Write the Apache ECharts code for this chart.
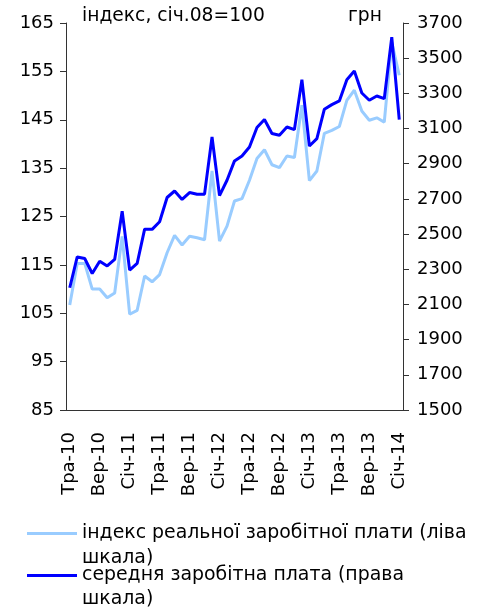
<!DOCTYPE html>
<html>
<head>
<meta charset="utf-8">
<script src="https://cdn.jsdelivr.net/npm/echarts@6/dist/echarts.min.js"></script>
<style>
  html, body { margin: 0; padding: 0; background: #fff; }
  #chart { width: 477px; height: 608px; }
</style>
</head>
<body>
<div id="chart"></div>
<script>
// місяці: травень 2010 - січень 2014
var months = [
  'Тра-10', 'Чер-10', 'Лип-10', 'Сер-10', 'Вер-10', 'Жов-10', 'Лис-10', 'Гру-10',
  'Січ-11', 'Лют-11', 'Бер-11', 'Кві-11', 'Тра-11', 'Чер-11', 'Лип-11', 'Сер-11',
  'Вер-11', 'Жов-11', 'Лис-11', 'Гру-11',
  'Січ-12', 'Лют-12', 'Бер-12', 'Кві-12', 'Тра-12', 'Чер-12', 'Лип-12', 'Сер-12',
  'Вер-12', 'Жов-12', 'Лис-12', 'Гру-12',
  'Січ-13', 'Лют-13', 'Бер-13', 'Кві-13', 'Тра-13', 'Чер-13', 'Лип-13', 'Сер-13',
  'Вер-13', 'Жов-13', 'Лис-13', 'Гру-13',
  'Січ-14'
];

// індекс реальної зарплати, січ.08=100 (ліва шкала)
var realIndex = [
  106.7, 115.3, 115.3, 110.0, 110.0, 108.2, 109.2, 120.9,
  104.8, 105.6, 112.7, 111.5, 113.0, 117.5, 121.1, 119.1,
  120.9, 120.6, 120.2, 134.4,
  119.9, 123.0, 128.2, 128.7, 132.5, 137.0, 138.8, 135.7,
  135.1, 137.5, 137.2, 148.0,
  132.4, 134.4, 142.2, 142.8, 143.6, 149.0, 151.1, 146.8,
  144.9, 145.4, 144.5, 161.0,
  154.2
];

// середня зарплата, грн (права шкала)
var avgWage = [
  2195, 2370, 2361, 2276, 2346, 2319, 2356, 2630,
  2295, 2333, 2528, 2527, 2570, 2708, 2745, 2697,
  2736, 2727, 2727, 3052,
  2719, 2806, 2916, 2944, 2995, 3106, 3151, 3072,
  3062, 3109, 3094, 3378,
  3001, 3043, 3210, 3236, 3257, 3378, 3427, 3302,
  3261, 3285, 3270, 3620,
  3151
];

var leftTicks = [85, 95, 105, 115, 125, 135, 145, 155, 165];
var rightTicks = [1500, 1700, 1900, 2100, 2300, 2500, 2700, 2900, 3100, 3300, 3500, 3700];

var nameReal = 'індекс реальної заробітної плати (ліва шкала)';
var nameWage = 'середня заробітна плата (права шкала)';

var font = 'DejaVu Sans';
var axisColor = '#333';
var textSize = 18.7;
var legendSize = 18.9;

var myChart = echarts.init(document.getElementById('chart'));

// легенда: перший рядок поруч з лінією, "шкала)" - окремим рядком нижче
function legendFor(name, top) {
  return {
    data: [name],
    orient: 'vertical',
    left: 27,
    top: top,
    padding: 0,
    icon: 'rect',
    itemWidth: 50,
    itemHeight: 3,
    selectedMode: false,
    formatter: function (n) { return n.replace(' шкала)', ''); },
    textStyle: { fontFamily: font, fontSize: legendSize, color: '#000' }
  };
}

function secondLine(y) {
  return {
    type: 'text', left: 82, top: y,
    style: { text: 'шкала)', font: legendSize + 'px "' + font + '"', fill: '#000' }
  };
}

myChart.setOption({
  animation: false,
  textStyle: { fontFamily: font },
  title: [
    { text: 'індекс, січ.08=100', left: 82, top: 7, padding: 0,
      textStyle: { fontFamily: font, fontSize: textSize, fontWeight: 'normal', color: '#000' } },
    { text: 'грн', left: 348, top: 7, padding: 0,
      textStyle: { fontFamily: font, fontSize: textSize, fontWeight: 'normal', color: '#000' } }
  ],
  legend: [legendFor(nameReal, 524), legendFor(nameWage, 566)],
  graphic: [secondLine(549), secondLine(590)],
  grid: { left: 66, right: 74, top: 23, bottom: 198, containLabel: false },
  xAxis: {
    type: 'category',
    data: months,
    boundaryGap: true,
    axisLine: { lineStyle: { color: axisColor, width: 1 } },
    axisTick: { interval: 3, length: 5, lineStyle: { color: axisColor } },
    axisLabel: {
      interval: 3, rotate: 90, margin: 22,
      fontFamily: font, fontSize: 18, color: '#000'
    },
    splitLine: { show: false }
  },
  yAxis: [
    {
      type: 'value', min: 85, max: 165, position: 'left',
      axisLine: { show: true, lineStyle: { color: axisColor, width: 1 } },
      axisTick: { show: true, length: 6, customValues: leftTicks, lineStyle: { color: axisColor } },
      axisLabel: { margin: 12, fontFamily: font, fontSize: 18, color: '#000', customValues: leftTicks },
      splitLine: { show: false }
    },
    {
      type: 'value', min: 1500, max: 3700, position: 'right',
      axisLine: { show: true, lineStyle: { color: axisColor, width: 1 } },
      axisTick: { show: true, length: 6, customValues: rightTicks, lineStyle: { color: axisColor } },
      axisLabel: {
        margin: 14, fontFamily: font, fontSize: 18, color: '#000', customValues: rightTicks,
        formatter: function (v) { return String(v); }
      },
      splitLine: { show: false }
    }
  ],
  series: [
    {
      name: nameReal,
      type: 'line',
      yAxisIndex: 0,
      data: realIndex,
      symbol: 'none',
      lineStyle: { color: '#99ccff', width: 3 },
      itemStyle: { color: '#99ccff' }
    },
    {
      name: nameWage,
      type: 'line',
      yAxisIndex: 1,
      data: avgWage,
      symbol: 'none',
      lineStyle: { color: '#0000ff', width: 3 },
      itemStyle: { color: '#0000ff' }
    }
  ]
});
</script>
</body>
</html>
